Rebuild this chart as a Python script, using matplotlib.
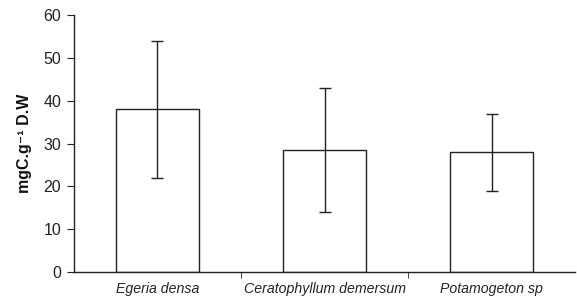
import matplotlib
matplotlib.use("Agg")
import matplotlib.pyplot as plt
import numpy as np

categories = ["Egeria densa", "Ceratophyllum demersum", "Potamogeton sp"]
means = [38.0, 28.5, 28.0]
errors = [16.0, 14.5, 9.0]
yticks = [0, 10, 20, 30, 40, 50, 60]

plt.rcParams['font.family'] = ['Liberation Sans', 'DejaVu Sans']

fig = plt.figure(figsize=(5.77, 3.0), dpi=100)
ax = fig.add_axes([0.128, 0.093, 0.869, 0.857])

x = np.arange(len(categories))
ax.bar(x, means, width=0.5, color="white", edgecolor="#222222", linewidth=1.0,
       yerr=errors, capsize=4, error_kw=dict(ecolor="#222222", elinewidth=1.0, capthick=1.0))

ax.set_xlim(-0.5, 2.5)
ax.set_ylim(0, 60)
ax.set_yticks(yticks)
ax.set_yticklabels([str(v) for v in yticks], fontsize=11.5, color="#222222")
ax.set_xticks(x)
ax.set_xticklabels(categories, fontsize=10.2, style="italic", color="#222222")
ax.tick_params(axis="x", which="major", length=0, pad=7)
ax.set_xticks([0.5, 1.5], minor=True)
ax.tick_params(axis="x", which="minor", length=4, direction="out", color="#222222")
ax.tick_params(axis="y", length=5, direction="out", color="#222222", pad=4)

for s in ["top", "right"]:
    ax.spines[s].set_visible(False)
for s in ["left", "bottom"]:
    ax.spines[s].set_color("#222222")
    ax.spines[s].set_linewidth(1.0)

ax.set_ylabel("mgC.g\u207b\u00b9 D.W", fontsize=11.5, fontweight="bold", labelpad=8, color="#111111")

fig.savefig("out.png", dpi=100)
